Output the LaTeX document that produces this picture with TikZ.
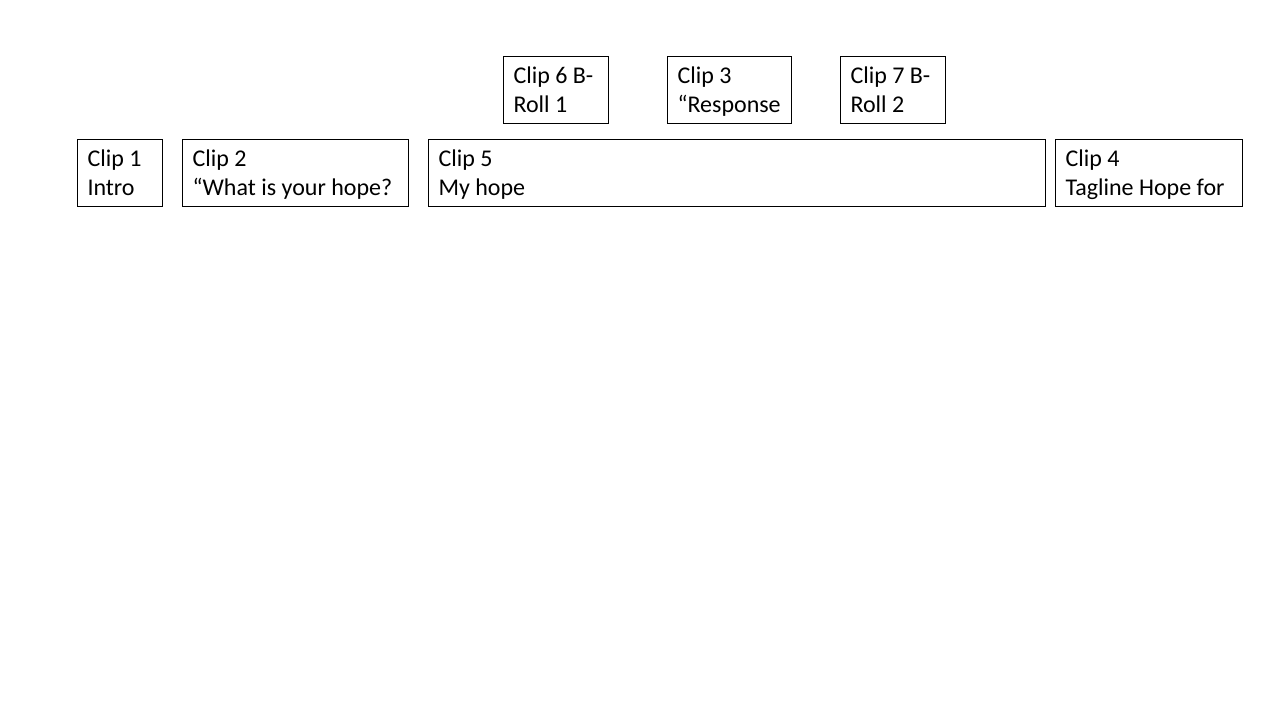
\documentclass[tikz,border=0pt]{standalone}
\usepackage{fontspec}
\setmainfont{Carlito}
\usetikzlibrary{positioning}

\tikzset{
    clipbox/.style={draw=black, line width=0.75pt, anchor=north west, align=flush left,
        inner xsep=7.5pt, inner ysep=0pt, minimum height=50.5pt,
        font=\fontsize{18}{21.6}\selectfont,
        execute at begin node={\rule{0pt}{18pt}},
        execute at end node=\strut}
}

\begin{document}
\begin{tikzpicture}[x=0.75pt, y=-0.75pt]
    \useasboundingbox (0,0) rectangle (1280,720);

    % Upper row: overlay clips
    \node[clipbox, text width=63.75pt] (clipsix) at (503,56) {Clip 6 B-\\Roll 1};
    \node[clipbox, text width=78pt] (clipthree) at (667,56) {Clip 3\\\mbox{“Response}};
    \node[clipbox, text width=63.75pt] (clipseven) at (840,56) {Clip 7 B-\\Roll 2};

    % Lower row: main clips
    \node[clipbox, text width=48.75pt] (clipone) at (77,139) {Clip 1\\Intro};
    \node[clipbox, text width=154.5pt] (cliptwo) at (182,139) {Clip 2\\\mbox{“What is your hope?}};
    \node[clipbox, text width=447.75pt] (clipfive) at (428,139) {Clip 5\\My hope};
    \node[clipbox, text width=125.25pt] (clipfour) at (1055,139) {Clip 4\\Tagline Hope for};
\end{tikzpicture}
\end{document}
